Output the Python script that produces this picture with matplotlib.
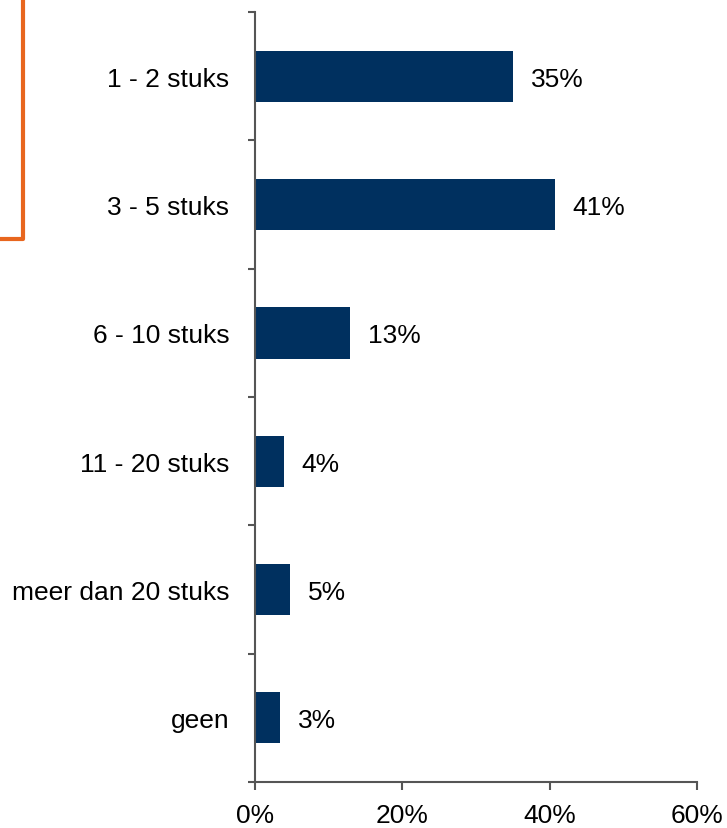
import matplotlib.pyplot as plt
import numpy as np
from matplotlib.lines import Line2D

plt.rcParams['font.family'] = ['Liberation Sans', 'DejaVu Sans']

# ========================== DATA ==========================
categories = ["1 - 2 stuks", "3 - 5 stuks", "6 - 10 stuks",
              "11 - 20 stuks", "meer dan 20 stuks", "geen"]
values = [35.0, 40.7, 12.9, 3.9, 4.8, 3.4]
x_ticks = [0, 20, 40, 60]

bar_color = "#00305F"
axis_color = "#555555"

fig = plt.figure(figsize=(7.27, 8.29), dpi=100)
ax = fig.add_axes([0.3508, 0.0555, 0.6079, 0.9288])

y = np.arange(len(categories))
ax.barh(y, values, height=0.4, color=bar_color)

for yi, v in zip(y, values):
    ax.text(v + 2.4, yi + 0.02, f"{v:.0f}%", va="center", ha="left", fontsize=19)

ax.set_xlim(0, 60)
ax.set_ylim(len(categories) - 0.5, -0.5)

ax.set_xticks(x_ticks)
ax.set_xticklabels([f"{t}%" for t in x_ticks], fontsize=19)
ax.set_yticks(y)
ax.set_yticklabels(categories, fontsize=19)
ax.set_yticks(np.arange(len(categories) + 1) - 0.5, minor=True)

ax.tick_params(axis="y", which="major", length=0, pad=18.5)
ax.tick_params(axis="y", which="minor", length=5, width=1.5, color=axis_color, direction="out")
ax.tick_params(axis="x", which="major", length=5.5, width=1.5, color=axis_color, direction="out", pad=9.5)

for s in ["top", "right"]:
    ax.spines[s].set_visible(False)
for s in ["left", "bottom"]:
    ax.spines[s].set_color(axis_color)
    ax.spines[s].set_linewidth(1.5)

# orange bracket at the top left
fig.add_artist(Line2D([0.032, 0.032, 0.0], [1.0, 0.7105, 0.7105],
                      transform=fig.transFigure, color="#E8661E", linewidth=3))

fig.savefig("out.png", dpi=100)
